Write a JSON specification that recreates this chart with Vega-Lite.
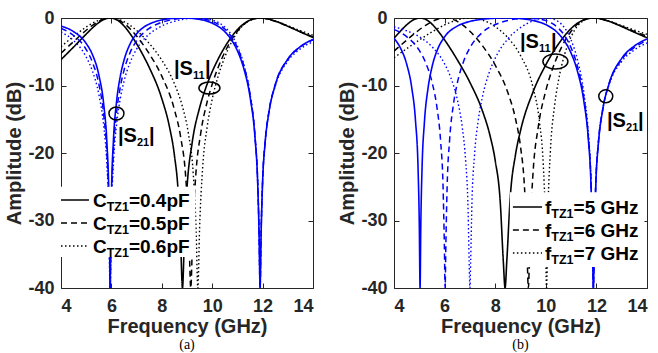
{
  "$schema": "https://vega.github.io/schema/vega-lite/v6.json",
  "padding": {"left": 4, "top": 8, "right": 5, "bottom": 1},
  "config": {
    "view": {"stroke": "#262626", "strokeWidth": 1},
    "font": "Liberation Sans",
    "axis": {"labelFont": "Liberation Sans", "labelFontSize": 18, "labelFontWeight": "bold", "labelColor": "#262626", "titleFont": "Liberation Sans", "titleFontSize": 20, "titleFontWeight": "bold", "titleColor": "#262626", "domain": false, "grid": false, "tickColor": "#262626", "tickWidth": 1, "tickSize": -5},
    "concat": {"spacing": 23}
  },
  "datasets": {
    "A": [
      {"v":"1","f":4,"a":-1.19,"b":-6.17},{"v":"1","f":4.5,"a":-2.02,"b":-4.3},{"v":"1","f":5,"a":-3.77,"b":-2.38},{"v":"1","f":5.25,"a":-5.45,"b":-1.46},{"v":"1","f":5.5,"a":-8.41,"b":-0.68},{"v":"1","f":5.7,"a":-12.96,"b":-0.23},{"v":"1","f":5.82,"a":-18.39,"b":-0.06},{"v":"1","f":5.9,"a":-26.57,"b":-0.01},{"v":"1","f":5.93,"a":-34.5,"b":0},{"v":"1","f":5.95,"a":-40,"b":0},{"v":"1","f":5.97,"a":-34.5,"b":0},{"v":"1","f":6.0,"a":-26.5,"b":-0.01},{"v":"1","f":6.08,"a":-18.17,"b":-0.07},{"v":"1","f":6.2,"a":-12.56,"b":-0.25},{"v":"1","f":6.35,"a":-8.68,"b":-0.63},{"v":"1","f":6.5,"a":-6.26,"b":-1.18},{"v":"1","f":6.75,"a":-3.78,"b":-2.37},{"v":"1","f":7.0,"a":-2.34,"b":-3.82},{"v":"1","f":7.25,"a":-1.45,"b":-5.46},{"v":"1","f":7.5,"a":-0.9,"b":-7.31},{"v":"1","f":8.0,"a":-0.29,"b":-11.94},{"v":"1","f":8.3,"a":-0.11,"b":-16.05},{"v":"1","f":8.5,"a":-0.04,"b":-20.31},{"v":"1","f":8.65,"a":-0.01,"b":-25.8},{"v":"1","f":8.75,"a":0,"b":-33.5},{"v":"1","f":8.82,"a":0,"b":-40},{"v":"1","f":8.9,"a":0,"b":-32.3},{"v":"1","f":9.0,"a":-0.01,"b":-25.2},{"v":"1","f":9.2,"a":-0.06,"b":-18.6},{"v":"1","f":9.5,"a":-0.21,"b":-13.3},{"v":"1","f":9.75,"a":-0.42,"b":-10.31},{"v":"1","f":10.0,"a":-0.76,"b":-7.95},{"v":"1","f":10.25,"a":-1.27,"b":-5.98},{"v":"1","f":10.5,"a":-2.03,"b":-4.3},{"v":"1","f":10.75,"a":-3.16,"b":-2.88},{"v":"1","f":11.0,"a":-4.85,"b":-1.72},{"v":"1","f":11.25,"a":-7.44,"b":-0.87},{"v":"1","f":11.5,"a":-11.65,"b":-0.31},{"v":"1","f":11.7,"a":-17.82,"b":-0.07},{"v":"1","f":11.8,"a":-23.97,"b":-0.02},{"v":"1","f":11.86,"a":-32.0,"b":0},{"v":"1","f":11.9,"a":-40,"b":0},{"v":"1","f":11.94,"a":-32.2,"b":0},{"v":"1","f":12.0,"a":-24.3,"b":0},{"v":"1","f":12.1,"a":-18.5,"b":-0.06},{"v":"1","f":12.25,"a":-13.99,"b":-0.18},{"v":"1","f":12.5,"a":-9.95,"b":-0.46},{"v":"1","f":13.0,"a":-6.1,"b":-1.23},{"v":"1","f":13.5,"a":-4.23,"b":-2.07},{"v":"1","f":14.0,"a":-3.17,"b":-2.89},
      {"v":"2","f":4,"a":-1.56,"b":-5.22},{"v":"2","f":4.5,"a":-2.59,"b":-3.49},{"v":"2","f":5,"a":-4.67,"b":-1.81},{"v":"2","f":5.25,"a":-6.58,"b":-1.08},{"v":"2","f":5.5,"a":-9.77,"b":-0.48},{"v":"2","f":5.7,"a":-14.5,"b":-0.16},{"v":"2","f":5.82,"a":-20.01,"b":-0.04},{"v":"2","f":5.9,"a":-28.2,"b":0},{"v":"2","f":5.93,"a":-36.2,"b":0},{"v":"2","f":5.95,"a":-40,"b":0},{"v":"2","f":5.97,"a":-36.2,"b":0},{"v":"2","f":6.0,"a":-28.2,"b":0},{"v":"2","f":6.08,"a":-19.88,"b":-0.04},{"v":"2","f":6.2,"a":-14.25,"b":-0.17},{"v":"2","f":6.35,"a":-10.3,"b":-0.42},{"v":"2","f":6.5,"a":-7.77,"b":-0.8},{"v":"2","f":6.75,"a":-5.06,"b":-1.63},{"v":"2","f":7.0,"a":-3.39,"b":-2.68},{"v":"2","f":7.25,"a":-2.28,"b":-3.9},{"v":"2","f":7.5,"a":-1.54,"b":-5.28},{"v":"2","f":8.0,"a":-0.64,"b":-8.62},{"v":"2","f":8.5,"a":-0.2,"b":-13.57},{"v":"2","f":8.75,"a":-0.07,"b":-17.68},{"v":"2","f":8.95,"a":-0.02,"b":-23.6},{"v":"2","f":9.07,"a":0,"b":-31.5},{"v":"2","f":9.15,"a":0,"b":-40},{"v":"2","f":9.23,"a":0,"b":-31.3},{"v":"2","f":9.35,"a":-0.02,"b":-23.2},{"v":"2","f":9.55,"a":-0.09,"b":-16.96},{"v":"2","f":9.8,"a":-0.26,"b":-12.41},{"v":"2","f":10.0,"a":-0.5,"b":-9.8},{"v":"2","f":10.25,"a":-0.93,"b":-7.18},{"v":"2","f":10.5,"a":-1.63,"b":-5.06},{"v":"2","f":10.75,"a":-2.72,"b":-3.33},{"v":"2","f":11.0,"a":-4.41,"b":-1.97},{"v":"2","f":11.25,"a":-7.01,"b":-0.96},{"v":"2","f":11.5,"a":-11.27,"b":-0.34},{"v":"2","f":11.7,"a":-17.51,"b":-0.08},{"v":"2","f":11.8,"a":-23.7,"b":-0.02},{"v":"2","f":11.86,"a":-31.76,"b":0},{"v":"2","f":11.9,"a":-40,"b":0},{"v":"2","f":11.94,"a":-31.93,"b":0},{"v":"2","f":12.0,"a":-24.09,"b":0},{"v":"2","f":12.1,"a":-18.32,"b":-0.06},{"v":"2","f":12.25,"a":-13.86,"b":-0.19},{"v":"2","f":12.5,"a":-9.88,"b":-0.47},{"v":"2","f":13.0,"a":-6.11,"b":-1.22},{"v":"2","f":13.5,"a":-4.3,"b":-2.03},{"v":"2","f":14.0,"a":-3.25,"b":-2.8},
      {"v":"3","f":4,"a":-2.06,"b":-4.25},{"v":"3","f":4.5,"a":-3.34,"b":-2.72},{"v":"3","f":5,"a":-5.77,"b":-1.34},{"v":"3","f":5.25,"a":-7.88,"b":-0.77},{"v":"3","f":5.5,"a":-11.29,"b":-0.34},{"v":"3","f":5.7,"a":-16.14,"b":-0.11},{"v":"3","f":5.82,"a":-21.72,"b":-0.03},{"v":"3","f":5.9,"a":-29.97,"b":0},{"v":"3","f":5.93,"a":-37.9,"b":0},{"v":"3","f":5.95,"a":-40,"b":0},{"v":"3","f":5.97,"a":-37.9,"b":0},{"v":"3","f":6.0,"a":-29.93,"b":0},{"v":"3","f":6.08,"a":-21.64,"b":-0.03},{"v":"3","f":6.2,"a":-15.99,"b":-0.11},{"v":"3","f":6.35,"a":-12.0,"b":-0.28},{"v":"3","f":6.5,"a":-9.39,"b":-0.53},{"v":"3","f":6.75,"a":-6.51,"b":-1.1},{"v":"3","f":7.0,"a":-4.62,"b":-1.84},{"v":"3","f":7.25,"a":-3.32,"b":-2.73},{"v":"3","f":7.5,"a":-2.39,"b":-3.76},{"v":"3","f":8.0,"a":-1.18,"b":-6.25},{"v":"3","f":8.5,"a":-0.49,"b":-9.74},{"v":"3","f":8.8,"a":-0.23,"b":-12.88},{"v":"3","f":9.05,"a":-0.09,"b":-17.0},{"v":"3","f":9.25,"a":-0.02,"b":-23.2},{"v":"3","f":9.36,"a":0,"b":-31.3},{"v":"3","f":9.43,"a":0,"b":-40},{"v":"3","f":9.5,"a":0,"b":-31.1},{"v":"3","f":9.62,"a":-0.03,"b":-22.2},{"v":"3","f":9.8,"a":-0.11,"b":-16.14},{"v":"3","f":10.0,"a":-0.28,"b":-12.04},{"v":"3","f":10.25,"a":-0.67,"b":-8.46},{"v":"3","f":10.5,"a":-1.34,"b":-5.78},{"v":"3","f":10.75,"a":-2.43,"b":-3.7},{"v":"3","f":11.0,"a":-4.14,"b":-2.11},{"v":"3","f":11.25,"a":-6.83,"b":-1.01},{"v":"3","f":11.5,"a":-11.19,"b":-0.35},{"v":"3","f":11.7,"a":-17.51,"b":-0.08},{"v":"3","f":11.8,"a":-23.72,"b":-0.02},{"v":"3","f":11.86,"a":-31.82,"b":0},{"v":"3","f":11.9,"a":-40,"b":0},{"v":"3","f":11.94,"a":-32.02,"b":0},{"v":"3","f":12.0,"a":-24.2,"b":0},{"v":"3","f":12.1,"a":-18.46,"b":-0.06},{"v":"3","f":12.25,"a":-14.04,"b":-0.18},{"v":"3","f":12.5,"a":-10.11,"b":-0.44},{"v":"3","f":13.0,"a":-6.39,"b":-1.14},{"v":"3","f":13.5,"a":-4.57,"b":-1.87},{"v":"3","f":14.0,"a":-3.51,"b":-2.56}
    ],
    "B": [
      {"v":"1","f":4,"a":-3.01,"b":-3.01},{"v":"1","f":4.25,"a":-4.41,"b":-1.97},{"v":"1","f":4.5,"a":-6.82,"b":-1.02},{"v":"1","f":4.7,"a":-10.3,"b":-0.42},{"v":"1","f":4.85,"a":-15.24,"b":-0.13},{"v":"1","f":4.95,"a":-22.15,"b":-0.03},{"v":"1","f":5.0,"a":-30.6,"b":0},{"v":"1","f":5.03,"a":-40,"b":0},{"v":"1","f":5.06,"a":-30.6,"b":0},{"v":"1","f":5.11,"a":-22.07,"b":-0.03},{"v":"1","f":5.2,"a":-15.56,"b":-0.12},{"v":"1","f":5.35,"a":-10.27,"b":-0.42},{"v":"1","f":5.5,"a":-7.3,"b":-0.9},{"v":"1","f":5.75,"a":-4.41,"b":-1.97},{"v":"1","f":6.0,"a":-2.79,"b":-3.25},{"v":"1","f":6.5,"a":-1.2,"b":-6.18},{"v":"1","f":7.0,"a":-0.51,"b":-9.54},{"v":"1","f":7.5,"a":-0.18,"b":-13.81},{"v":"1","f":7.8,"a":-0.08,"b":-17.49},{"v":"1","f":8.0,"a":-0.03,"b":-21.1},{"v":"1","f":8.2,"a":0,"b":-27.3},{"v":"1","f":8.32,"a":0,"b":-36.0},{"v":"1","f":8.39,"a":0,"b":-40},{"v":"1","f":8.46,"a":0,"b":-35.9},{"v":"1","f":8.6,"a":-0.01,"b":-26.3},{"v":"1","f":8.8,"a":-0.04,"b":-20.3},{"v":"1","f":9.0,"a":-0.09,"b":-16.7},{"v":"1","f":9.5,"a":-0.37,"b":-10.91},{"v":"1","f":10.0,"a":-0.98,"b":-6.94},{"v":"1","f":10.5,"a":-2.31,"b":-3.86},{"v":"1","f":10.75,"a":-3.48,"b":-2.6},{"v":"1","f":11.0,"a":-5.21,"b":-1.56},{"v":"1","f":11.25,"a":-7.87,"b":-0.78},{"v":"1","f":11.5,"a":-12.23,"b":-0.27},{"v":"1","f":11.68,"a":-17.92,"b":-0.07},{"v":"1","f":11.78,"a":-24.04,"b":-0.02},{"v":"1","f":11.84,"a":-32.1,"b":0},{"v":"1","f":11.88,"a":-40,"b":0},{"v":"1","f":11.92,"a":-32.23,"b":0},{"v":"1","f":11.98,"a":-24.36,"b":0},{"v":"1","f":12.08,"a":-18.55,"b":-0.06},{"v":"1","f":12.25,"a":-13.59,"b":-0.2},{"v":"1","f":12.5,"a":-9.74,"b":-0.49},{"v":"1","f":13.0,"a":-5.98,"b":-1.27},{"v":"1","f":13.5,"a":-4.15,"b":-2.11},{"v":"1","f":14.0,"a":-3.1,"b":-2.93},
      {"v":"2","f":4,"a":-1.7,"b":-4.9},{"v":"2","f":4.5,"a":-2.77,"b":-3.28},{"v":"2","f":5.0,"a":-4.81,"b":-1.74},{"v":"2","f":5.25,"a":-6.61,"b":-1.08},{"v":"2","f":5.5,"a":-9.45,"b":-0.53},{"v":"2","f":5.7,"a":-13.31,"b":-0.21},{"v":"2","f":5.84,"a":-18.12,"b":-0.07},{"v":"2","f":5.94,"a":-25.07,"b":-0.01},{"v":"2","f":5.99,"a":-33.57,"b":0},{"v":"2","f":6.02,"a":-40,"b":0},{"v":"2","f":6.05,"a":-33.54,"b":0},{"v":"2","f":6.1,"a":-25.0,"b":-0.01},{"v":"2","f":6.2,"a":-17.97,"b":-0.07},{"v":"2","f":6.35,"a":-12.78,"b":-0.24},{"v":"2","f":6.5,"a":-9.68,"b":-0.5},{"v":"2","f":6.75,"a":-6.44,"b":-1.13},{"v":"2","f":7.0,"a":-4.41,"b":-1.97},{"v":"2","f":7.5,"a":-2.12,"b":-4.13},{"v":"2","f":8.0,"a":-0.97,"b":-6.99},{"v":"2","f":8.5,"a":-0.36,"b":-11.05},{"v":"2","f":8.8,"a":-0.15,"b":-14.89},{"v":"2","f":9.0,"a":-0.05,"b":-19.04},{"v":"2","f":9.15,"a":-0.02,"b":-24.6},{"v":"2","f":9.24,"a":0,"b":-31.7},{"v":"2","f":9.31,"a":0,"b":-40},{"v":"2","f":9.38,"a":0,"b":-31.55},{"v":"2","f":9.5,"a":-0.02,"b":-22.7},{"v":"2","f":9.7,"a":-0.11,"b":-16.19},{"v":"2","f":10.0,"a":-0.38,"b":-10.77},{"v":"2","f":10.25,"a":-0.81,"b":-7.7},{"v":"2","f":10.5,"a":-1.52,"b":-5.31},{"v":"2","f":10.75,"a":-2.65,"b":-3.41},{"v":"2","f":11.0,"a":-4.41,"b":-1.96},{"v":"2","f":11.25,"a":-7.16,"b":-0.93},{"v":"2","f":11.5,"a":-11.67,"b":-0.31},{"v":"2","f":11.68,"a":-17.49,"b":-0.08},{"v":"2","f":11.78,"a":-23.67,"b":-0.02},{"v":"2","f":11.84,"a":-31.77,"b":0},{"v":"2","f":11.88,"a":-40,"b":0},{"v":"2","f":11.92,"a":-31.95,"b":0},{"v":"2","f":11.98,"a":-24.13,"b":0},{"v":"2","f":12.08,"a":-18.38,"b":-0.06},{"v":"2","f":12.25,"a":-13.52,"b":-0.21},{"v":"2","f":12.5,"a":-9.76,"b":-0.48},{"v":"2","f":13.0,"a":-6.14,"b":-1.21},{"v":"2","f":13.5,"a":-4.37,"b":-1.98},{"v":"2","f":14.0,"a":-3.34,"b":-2.71},
      {"v":"3","f":4,"a":-1.31,"b":-5.88},{"v":"3","f":4.5,"a":-1.89,"b":-4.55},{"v":"3","f":5.0,"a":-2.78,"b":-3.26},{"v":"3","f":5.5,"a":-4.24,"b":-2.06},{"v":"3","f":6.0,"a":-6.79,"b":-1.02},{"v":"3","f":6.25,"a":-8.88,"b":-0.61},{"v":"3","f":6.5,"a":-12.04,"b":-0.28},{"v":"3","f":6.7,"a":-16.26,"b":-0.11},{"v":"3","f":6.83,"a":-21.09,"b":-0.03},{"v":"3","f":6.93,"a":-28.71,"b":0},{"v":"3","f":6.97,"a":-36.06,"b":0},{"v":"3","f":7.0,"a":-40,"b":0},{"v":"3","f":7.03,"a":-36.03,"b":0},{"v":"3","f":7.08,"a":-27.48,"b":0},{"v":"3","f":7.18,"a":-20.42,"b":-0.04},{"v":"3","f":7.33,"a":-15.16,"b":-0.13},{"v":"3","f":7.5,"a":-11.6,"b":-0.32},{"v":"3","f":7.75,"a":-8.22,"b":-0.71},{"v":"3","f":8.0,"a":-5.96,"b":-1.28},{"v":"3","f":8.5,"a":-3.1,"b":-2.93},{"v":"3","f":9.0,"a":-1.42,"b":-5.56},{"v":"3","f":9.5,"a":-0.42,"b":-10.37},{"v":"3","f":9.75,"a":-0.13,"b":-15.38},{"v":"3","f":9.9,"a":-0.03,"b":-21.7},{"v":"3","f":9.97,"a":0,"b":-28.3},{"v":"3","f":10.03,"a":0,"b":-40},{"v":"3","f":10.09,"a":0,"b":-28.0},{"v":"3","f":10.18,"a":-0.05,"b":-19.84},{"v":"3","f":10.35,"a":-0.23,"b":-12.9},{"v":"3","f":10.5,"a":-0.54,"b":-9.29},{"v":"3","f":10.75,"a":-1.51,"b":-5.32},{"v":"3","f":11.0,"a":-3.27,"b":-2.78},{"v":"3","f":11.25,"a":-6.16,"b":-1.2},{"v":"3","f":11.5,"a":-10.94,"b":-0.37},{"v":"3","f":11.68,"a":-16.96,"b":-0.09},{"v":"3","f":11.78,"a":-23.26,"b":-0.02},{"v":"3","f":11.84,"a":-31.42,"b":0},{"v":"3","f":11.88,"a":-40,"b":0},{"v":"3","f":11.92,"a":-31.69,"b":0},{"v":"3","f":11.98,"a":-23.91,"b":0},{"v":"3","f":12.08,"a":-18.26,"b":-0.07},{"v":"3","f":12.25,"a":-13.53,"b":-0.21},{"v":"3","f":12.5,"a":-9.9,"b":-0.46},{"v":"3","f":13.0,"a":-6.44,"b":-1.12},{"v":"3","f":13.5,"a":-4.73,"b":-1.79},{"v":"3","f":14.0,"a":-3.69,"b":-2.41}
    ]
  },
  "hconcat": [
    {
      "width": 252, "height": 270,
      "title": {"text": "(a)", "orient": "bottom", "font": "Liberation Serif", "fontSize": 14, "fontWeight": "normal", "color": "#000000", "offset": 2},
      "resolve": {"axis": {"x": "independent", "y": "independent"}},
      "layer": [
        {
          "data": {"name": "A"},
          "mark": {"type": "line", "color": "#000000", "interpolate": "monotone", "clip": true},
          "encoding": {
            "x": {"field": "f", "type": "quantitative", "scale": {"domain": [4, 14], "nice": false, "zero": false}, "axis": {"orient": "top", "values": [4, 6, 8, 10, 12, 14], "labels": false, "title": null}},
            "y": {"field": "b", "type": "quantitative", "scale": {"domain": [-40, 0], "nice": false, "zero": false}, "axis": {"orient": "right", "values": [0, -10, -20, -30, -40], "labels": false, "title": null}},
            "strokeDash": {"field": "v", "type": "nominal", "scale": {"domain": ["1", "2", "3"], "range": [[1, 0], [6, 4], [1.5, 2.5]]}, "legend": null},
            "strokeWidth": {"field": "v", "type": "ordinal", "scale": {"domain": ["1", "2", "3"], "range": [1.6, 1.4, 1.1]}, "legend": null}
          }
        },
        {
          "data": {"name": "A"},
          "mark": {"type": "line", "color": "#0000ff", "interpolate": "monotone", "clip": true},
          "encoding": {
            "x": {"field": "f", "type": "quantitative", "axis": {"orient": "bottom", "values": [4, 6, 8, 10, 12, 14], "title": "Frequency (GHz)", "labelPadding": 14, "titlePadding": 1}},
            "y": {"field": "a", "type": "quantitative", "axis": {"orient": "left", "values": [0, -10, -20, -30, -40], "title": "Amplitude (dB)", "labelPadding": 12, "titlePadding": 3, "labelExpr": "datum.value < 0 ? '-' + abs(datum.value) : '0'"}},
            "strokeDash": {"field": "v", "type": "nominal", "legend": null},
            "strokeWidth": {"field": "v", "type": "ordinal", "legend": null}
          }
        },
        {
          "data": {"values": [{}]},
          "mark": {"type": "rect", "fill": "#ffffff"},
          "encoding": {"x": {"datum": 4, "type": "quantitative", "axis": null}, "x2": {"datum": 9.33}, "y": {"datum": -25.0, "type": "quantitative", "axis": null}, "y2": {"datum": -35.4}}
        },
        {
          "data": {"values": [{"v": "1", "y": -26.96, "t": "=0.4pF"}, {"v": "2", "y": -30.37, "t": "=0.5pF"}, {"v": "3", "y": -33.78, "t": "=0.6pF"}]},
          "layer": [
            {"mark": {"type": "rule", "color": "#000000"}, "encoding": {"x": {"datum": 4, "type": "quantitative", "axis": null}, "x2": {"datum": 5.11}, "y": {"field": "y", "type": "quantitative", "axis": null}, "strokeDash": {"field": "v", "type": "nominal", "legend": null}, "strokeWidth": {"field": "v", "type": "ordinal", "legend": null}}},
            {"mark": {"type": "text", "text": "C", "align": "left", "baseline": "alphabetic", "dy": 7, "font": "Liberation Sans", "fontSize": 19, "fontWeight": "bold", "color": "#000000"}, "encoding": {"x": {"datum": 5.27, "type": "quantitative", "axis": null}, "y": {"field": "y", "type": "quantitative", "axis": null}}},
            {"mark": {"type": "text", "text": "TZ1", "align": "left", "baseline": "alphabetic", "dx": 13.7, "dy": 11, "font": "Liberation Sans", "fontSize": 12.5, "fontWeight": "bold", "color": "#000000"}, "encoding": {"x": {"datum": 5.27, "type": "quantitative", "axis": null}, "y": {"field": "y", "type": "quantitative", "axis": null}}},
            {"mark": {"type": "text", "align": "left", "baseline": "alphabetic", "dx": 35.9, "dy": 7, "font": "Liberation Sans", "fontSize": 19, "fontWeight": "bold", "color": "#000000"}, "encoding": {"x": {"datum": 5.27, "type": "quantitative", "axis": null}, "y": {"field": "y", "type": "quantitative", "axis": null}, "text": {"field": "t"}}}
          ]
        },
        {
          "data": {"values": [{"f": 8.48, "y": -8.44, "s": "11"}, {"f": 6.26, "y": -18.44, "s": "21"}]},
          "layer": [
            {"mark": {"type": "text", "text": "|S", "align": "left", "baseline": "alphabetic", "font": "Liberation Sans", "fontSize": 20, "fontWeight": "bold", "color": "#000000"}, "encoding": {"x": {"field": "f", "type": "quantitative", "axis": null}, "y": {"field": "y", "type": "quantitative", "axis": null}}},
            {"mark": {"type": "text", "align": "left", "baseline": "alphabetic", "dx": 19, "dy": 4, "font": "Liberation Sans", "fontSize": 11, "fontWeight": "bold", "color": "#000000"}, "encoding": {"x": {"field": "f", "type": "quantitative", "axis": null}, "y": {"field": "y", "type": "quantitative", "axis": null}, "text": {"field": "s"}}},
            {"mark": {"type": "text", "text": "|", "align": "left", "baseline": "alphabetic", "dx": 31, "font": "Liberation Sans", "fontSize": 20, "fontWeight": "bold", "color": "#000000"}, "encoding": {"x": {"field": "f", "type": "quantitative", "axis": null}, "y": {"field": "y", "type": "quantitative", "axis": null}}}
          ]
        },
        {
          "data": {"values": [{}]},
          "mark": {"type": "point", "shape": "M-1,0A1,0.87,0,1,1,1,0A1,0.87,0,1,1,-1,0Z", "size": 225, "filled": false, "stroke": "#000000", "strokeWidth": 1.5, "opacity": 1},
          "encoding": {"x": {"datum": 6.2, "type": "quantitative", "axis": null}, "y": {"datum": -14.15, "type": "quantitative", "axis": null}}
        },
        {
          "data": {"values": [{}]},
          "mark": {"type": "point", "shape": "M-1,0A1,0.57,0,1,1,1,0A1,0.57,0,1,1,-1,0Z", "size": 441, "filled": false, "stroke": "#000000", "strokeWidth": 1.5, "opacity": 1},
          "encoding": {"x": {"datum": 9.89, "type": "quantitative", "axis": null}, "y": {"datum": -10.37, "type": "quantitative", "axis": null}}
        }
      ]
    },
    {
      "width": 253, "height": 270,
      "title": {"text": "(b)", "orient": "bottom", "font": "Liberation Serif", "fontSize": 14, "fontWeight": "normal", "color": "#000000", "offset": 2},
      "resolve": {"axis": {"x": "independent", "y": "independent"}},
      "layer": [
        {
          "data": {"name": "B"},
          "mark": {"type": "line", "color": "#000000", "interpolate": "monotone", "clip": true},
          "encoding": {
            "x": {"field": "f", "type": "quantitative", "scale": {"domain": [4, 14], "nice": false, "zero": false}, "axis": {"orient": "top", "values": [4, 6, 8, 10, 12, 14], "labels": false, "title": null}},
            "y": {"field": "b", "type": "quantitative", "scale": {"domain": [-40, 0], "nice": false, "zero": false}, "axis": {"orient": "right", "values": [0, -10, -20, -30, -40], "labels": false, "title": null}},
            "strokeDash": {"field": "v", "type": "nominal", "scale": {"domain": ["1", "2", "3"], "range": [[1, 0], [6, 4], [1.5, 2.5]]}, "legend": null},
            "strokeWidth": {"field": "v", "type": "ordinal", "scale": {"domain": ["1", "2", "3"], "range": [1.6, 1.4, 1.1]}, "legend": null}
          }
        },
        {
          "data": {"name": "B"},
          "mark": {"type": "line", "color": "#0000ff", "interpolate": "monotone", "clip": true},
          "encoding": {
            "x": {"field": "f", "type": "quantitative", "axis": {"orient": "bottom", "values": [4, 6, 8, 10, 12, 14], "title": "Frequency (GHz)", "labelPadding": 14, "titlePadding": 1}},
            "y": {"field": "a", "type": "quantitative", "axis": {"orient": "left", "values": [0, -10, -20, -30, -40], "title": "Amplitude (dB)", "labelPadding": 12, "titlePadding": 3, "labelExpr": "datum.value < 0 ? '-' + abs(datum.value) : '0'"}},
            "strokeDash": {"field": "v", "type": "nominal", "legend": null},
            "strokeWidth": {"field": "v", "type": "ordinal", "legend": null}
          }
        },
        {
          "data": {"values": [{}]},
          "mark": {"type": "rect", "fill": "#ffffff"},
          "encoding": {"x": {"datum": 8.58, "type": "quantitative", "axis": null}, "x2": {"datum": 13.9}, "y": {"datum": -25.8, "type": "quantitative", "axis": null}, "y2": {"datum": -36.9}}
        },
        {
          "data": {"values": [{"v": "1", "y": -28.0, "t": "=5 GHz"}, {"v": "2", "y": -31.41, "t": "=6 GHz"}, {"v": "3", "y": -34.81, "t": "=7 GHz"}]},
          "layer": [
            {"mark": {"type": "rule", "color": "#000000"}, "encoding": {"x": {"datum": 8.7, "type": "quantitative", "axis": null}, "x2": {"datum": 9.85}, "y": {"field": "y", "type": "quantitative", "axis": null}, "strokeDash": {"field": "v", "type": "nominal", "legend": null}, "strokeWidth": {"field": "v", "type": "ordinal", "legend": null}}},
            {"mark": {"type": "text", "text": "f", "align": "left", "baseline": "alphabetic", "dy": 7, "font": "Liberation Sans", "fontSize": 19, "fontWeight": "bold", "color": "#000000"}, "encoding": {"x": {"datum": 9.97, "type": "quantitative", "axis": null}, "y": {"field": "y", "type": "quantitative", "axis": null}}},
            {"mark": {"type": "text", "text": "TZ1", "align": "left", "baseline": "alphabetic", "dx": 6.3, "dy": 11, "font": "Liberation Sans", "fontSize": 12.5, "fontWeight": "bold", "color": "#000000"}, "encoding": {"x": {"datum": 9.97, "type": "quantitative", "axis": null}, "y": {"field": "y", "type": "quantitative", "axis": null}}},
            {"mark": {"type": "text", "align": "left", "baseline": "alphabetic", "dx": 28.5, "dy": 7, "font": "Liberation Sans", "fontSize": 19, "fontWeight": "bold", "color": "#000000"}, "encoding": {"x": {"datum": 9.97, "type": "quantitative", "axis": null}, "y": {"field": "y", "type": "quantitative", "axis": null}, "text": {"field": "t"}}}
          ]
        },
        {
          "data": {"values": [{"f": 8.98, "y": -4.44, "s": "11"}, {"f": 12.42, "y": -16.15, "s": "21"}]},
          "layer": [
            {"mark": {"type": "text", "text": "|S", "align": "left", "baseline": "alphabetic", "font": "Liberation Sans", "fontSize": 20, "fontWeight": "bold", "color": "#000000"}, "encoding": {"x": {"field": "f", "type": "quantitative", "axis": null}, "y": {"field": "y", "type": "quantitative", "axis": null}}},
            {"mark": {"type": "text", "align": "left", "baseline": "alphabetic", "dx": 19, "dy": 4, "font": "Liberation Sans", "fontSize": 11, "fontWeight": "bold", "color": "#000000"}, "encoding": {"x": {"field": "f", "type": "quantitative", "axis": null}, "y": {"field": "y", "type": "quantitative", "axis": null}, "text": {"field": "s"}}},
            {"mark": {"type": "text", "text": "|", "align": "left", "baseline": "alphabetic", "dx": 31, "font": "Liberation Sans", "fontSize": 20, "fontWeight": "bold", "color": "#000000"}, "encoding": {"x": {"field": "f", "type": "quantitative", "axis": null}, "y": {"field": "y", "type": "quantitative", "axis": null}}}
          ]
        },
        {
          "data": {"values": [{}]},
          "mark": {"type": "point", "shape": "M-1,0A1,0.6,0,1,1,1,0A1,0.6,0,1,1,-1,0Z", "size": 625, "filled": false, "stroke": "#000000", "strokeWidth": 1.5, "opacity": 1},
          "encoding": {"x": {"datum": 10.38, "type": "quantitative", "axis": null}, "y": {"datum": -6.44, "type": "quantitative", "axis": null}}
        },
        {
          "data": {"values": [{}]},
          "mark": {"type": "point", "shape": "M-1,0A1,0.93,0,1,1,1,0A1,0.93,0,1,1,-1,0Z", "size": 196, "filled": false, "stroke": "#000000", "strokeWidth": 1.5, "opacity": 1},
          "encoding": {"x": {"datum": 12.37, "type": "quantitative", "axis": null}, "y": {"datum": -11.6, "type": "quantitative", "axis": null}}
        }
      ]
    }
  ]
}
